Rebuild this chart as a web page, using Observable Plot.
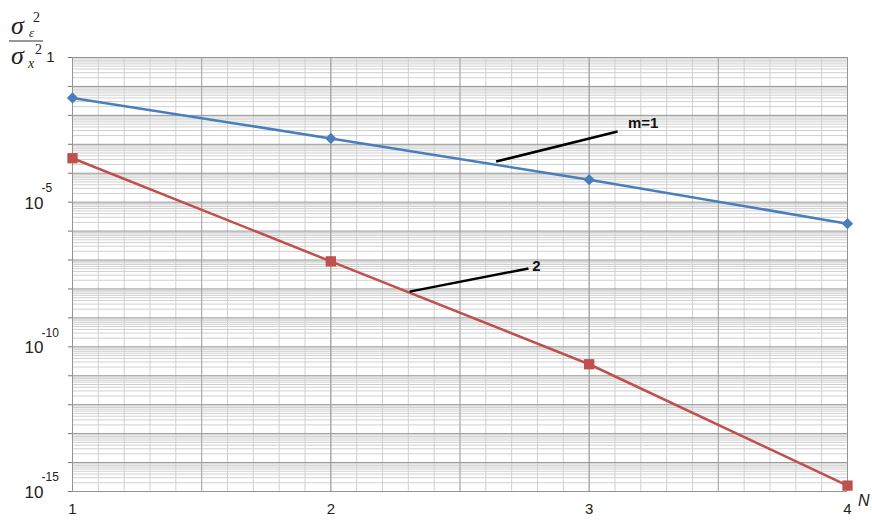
<!DOCTYPE html>
<html>
<head>
<meta charset="utf-8">
<script src="https://cdn.jsdelivr.net/npm/d3@7"></script>
<script src="https://cdn.jsdelivr.net/npm/@observablehq/plot@0.6"></script>
<style>
  html, body { margin: 0; padding: 0; background: #fff; }
  #chart { width: 872px; height: 520px; }
  svg { font-family: "Liberation Sans", Arial, sans-serif; }
</style>
</head>
<body>
<div id="chart"></div>
<script>
// ---- data ----
const N = [1, 2, 3, 4];
const seriesM1 = [4.0e-2, 1.6e-3, 6.0e-5, 1.8e-6];   // m=1 (blue, diamonds)
const seriesM2 = [3.3e-4, 9.0e-8, 2.5e-11, 1.6e-15]; // m=2 (red, squares)

const xTickLabels = ["1", "2", "3", "4"];
const yDecades = [1, 1e-1, 1e-2, 1e-3, 1e-4, 1e-5, 1e-6, 1e-7, 1e-8, 1e-9, 1e-10, 1e-11, 1e-12, 1e-13, 1e-14, 1e-15];
const yLabelValues = [1e-5, 1e-10, 1e-15];
const yLabelExps = ["-5", "-10", "-15"];
const yTopLabel = "1";

// annotation leaders and labels
const annLabels = ["m=1", "2"];
const annX1 = [2.64, 2.305];
const annY1 = [2.54e-4, 8.1e-9];
const annX2 = [3.11, 2.765];
const annY2 = [2.77e-3, 5.1e-8];
const annTX = [3.15, 2.78];
const annTY = [5.3e-3, 6.0e-8];

// ---- derived tables ----
const rows1 = N.map((n, i) => ({n, v: seriesM1[i]}));
const rows2 = N.map((n, i) => ({n, v: seriesM2[i]}));
const minorY = [];
for (let e = -15; e < 0; e++) for (let k = 2; k <= 9; k++) minorY.push(k * Math.pow(10, e));
const minorX = d3.range(1, 4.0001, 0.1).map(d => +d.toFixed(2));
const halfX = [1.5, 2.5, 3.5];
const yLabs = yLabelValues.map((v, i) => ({v, e: yLabelExps[i]}));
const anns = annLabels.map((t, i) => ({t, x1: annX1[i], y1: annY1[i], x2: annX2[i], y2: annY2[i], tx: annTX[i], ty: annTY[i]}));

const blue = "#4a7ebb";
const red = "#c0504d";

const plot = Plot.plot({
  width: 872,
  height: 520,
  marginLeft: 72,
  marginRight: 25,
  marginTop: 57,
  marginBottom: 29,
  style: {fontFamily: "Liberation Sans, Arial, sans-serif", background: "#fff", overflow: "visible"},
  x: {domain: [1, 4]},
  y: {type: "log", domain: [1e-15, 1]},
  marks: [
    Plot.gridY(minorY, {stroke: "#d0d0d0", strokeOpacity: 1, strokeWidth: 1}),
    Plot.gridX(minorX, {stroke: "#d0d0d0", strokeOpacity: 1, strokeWidth: 1}),
    Plot.gridX(halfX, {stroke: "#a8a8a8", strokeOpacity: 1, strokeWidth: 1}),
    Plot.gridY(yDecades, {stroke: "#959595", strokeOpacity: 1, strokeWidth: 1}),
    Plot.gridX(N, {stroke: "#959595", strokeOpacity: 1, strokeWidth: 1}),
    Plot.axisY(yDecades, {tickSize: 4, tickFormat: () => "", stroke: "#777", label: null}),
    Plot.axisX(N, {tickSize: 0, tickPadding: 12, tickFormat: (d, i) => xTickLabels[i], fontSize: 15, label: null, fill: "#222"}),
    // y labels
    Plot.text(yLabs, {x: 1, y: "v", text: () => "10", textAnchor: "end", dx: -29, dy: 1, fontSize: 17, fill: "#222"}),
    Plot.text(yLabs, {x: 1, y: "v", text: "e", textAnchor: "start", dx: -31, dy: -14, fontSize: 12, fill: "#222"}),
    Plot.text([yTopLabel], {x: 1, y: 1, text: d => d, textAnchor: "end", dx: -18, dy: 0, fontSize: 15, fill: "#222"}),
    // lines
    Plot.line(rows1, {x: "n", y: "v", stroke: blue, strokeWidth: 2.5}),
    Plot.dot(rows1, {x: "n", y: "v", symbol: "square", r: 4.5, rotate: 45, fill: blue, stroke: null}),
    Plot.line(rows2, {x: "n", y: "v", stroke: red, strokeWidth: 2.5}),
    Plot.dot(rows2, {x: "n", y: "v", symbol: "square", r: 5.8, fill: red, stroke: null}),
    // annotations
    Plot.link(anns, {x1: "x1", y1: "y1", x2: "x2", y2: "y2", stroke: "#000", strokeWidth: 2.5}),
    Plot.text(anns, {x: "tx", y: "ty", text: "t", textAnchor: "start", fontWeight: "bold", fontSize: 15, fill: "#111"}),
    // axis name N
    Plot.text(["N"], {frameAnchor: "bottom-right", text: d => d, dx: 22, dy: 14, fontStyle: "italic", fontSize: 16, fill: "#222"})
  ]
});

document.getElementById("chart").appendChild(plot);

// y-axis title as a stacked fraction
const svg = d3.select(plot);
const g = svg.append("g")
  .attr("text-anchor", "start")
  .style("font-family", "'Liberation Serif', 'Times New Roman', serif")
  .attr("fill", "#222");
function sym(x, y, size, txt, italic) {
  g.append("text").attr("x", x).attr("y", y).attr("text-anchor", "start")
    .style("font-size", size + "px").style("font-style", italic ? "italic" : "normal").text(txt);
}
// numerator: sigma_epsilon^2
sym(11, 34, 26, "σ", true);
sym(33, 22, 14, "2", false);
sym(29, 37, 13, "ε", true);
g.append("line").attr("x1", 9).attr("x2", 43).attr("y1", 41).attr("y2", 41).attr("stroke", "#333").attr("stroke-width", 1.2);
// denominator: sigma_x^2
sym(11, 64, 26, "σ", true);
sym(35, 54, 14, "2", false);
sym(28, 68, 14, "x", true);
</script>
</body>
</html>
